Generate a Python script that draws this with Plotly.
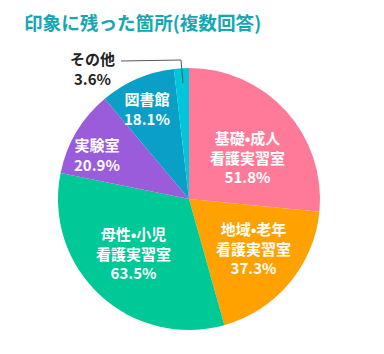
import plotly.graph_objects as go

labels = ["基礎•成人<br>看護実習室", "地域•老年<br>看護実習室", "母性•小児<br>看護実習室",
          "実験室", "図書館", "その他"]
values = [51.8, 37.3, 63.5, 20.9, 18.1, 3.6]
colors = ["#ff7a98", "#ffa200", "#00c896", "#9a5cdb", "#0a9fc6", "#00c6dc"]

W, H = 384, 354
OFF = 8  # page body margin
# label anchor positions in page pixels (layout, not data)
label_px = [(247, 157), (253, 248), (133, 253), (97, 154), (147, 108), (92, 68)]


def px(x, y):
    return (x - OFF) / W, 1 - (y - OFF) / H


fig = go.Figure(go.Pie(
    labels=labels, values=values, sort=False, direction="clockwise", rotation=0,
    marker=dict(colors=colors, line=dict(width=0)),
    textinfo="none", hoverinfo="label+value", showlegend=False,
    domain=dict(x=[(58 - OFF) / W, (320 - OFF) / W],
                y=[1 - (330 - OFF) / H, 1 - (68 - OFF) / H]),
))

font_family = "Noto Sans CJK JP"
for i, (lab, v) in enumerate(zip(labels, values)):
    x, y = px(*label_px[i])
    other = i == len(labels) - 1
    fig.add_annotation(
        x=x, y=y, xref="paper", yref="paper", showarrow=False,
        xanchor="center", yanchor="middle",
        text=f"<b>{lab}<br>{v:.1f}%</b>", align="center",
        font=dict(family=font_family, size=15, color="#222222" if other else "#ffffff"),
    )

# leader line for その他
p1, p2, p3 = px(121, 61), px(181, 60), px(183, 83)
fig.add_shape(type="path", xref="paper", yref="paper",
              path=f"M {p1[0]},{p1[1]} L {p2[0]},{p2[1]} L {p3[0]},{p3[1]}",
              line=dict(color="#555555", width=1))

tx, ty = px(22, 22)
fig.add_annotation(
    x=tx, y=ty, xref="paper", yref="paper", xanchor="left", yanchor="middle",
    showarrow=False, text="<b>印象に残った箇所(複数回答)</b>",
    font=dict(family=font_family, size=18.6, color="#16a7b1"),
)

fig.update_layout(width=W, height=H, margin=dict(l=0, r=0, t=0, b=0),
                  paper_bgcolor="white", plot_bgcolor="white")
fig.write_html("out.html")
